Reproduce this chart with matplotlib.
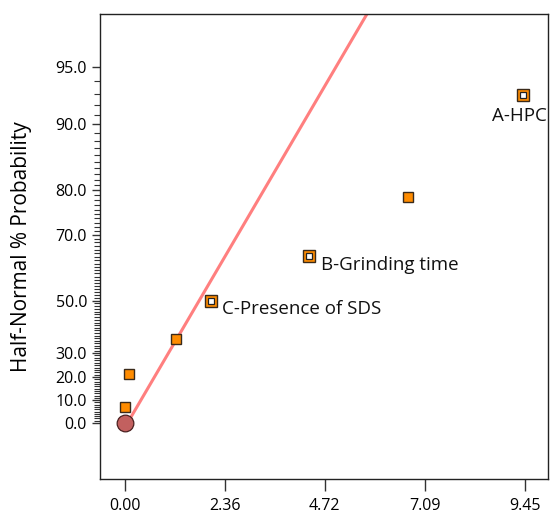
import matplotlib
matplotlib.use('Agg')
import matplotlib.pyplot as plt
from statistics import NormalDist

# effect sizes and half-normal % probability
effects = [0.00, 0.09, 1.21, 2.02, 4.35, 6.69, 9.40]
probs = [7.1, 21.4, 35.7, 50.0, 64.3, 78.6, 92.9]
names = ['', '', '', 'C-Presence of SDS', 'B-Grinding time', '', 'A-HPC']

x_ticks = [0.00, 2.36, 4.72, 7.09, 9.45]
y_major = [0, 10, 20, 30, 50, 70, 80, 90, 95]

# reference line (effect, % probability)
line_effect = [0.06, 6.0]
line_prob = [0.0, 98.2]

nd = NormalDist()
def hn(p):
    return nd.inv_cdf(0.5 + p / 200.0)

plt.rcParams['font.family'] = ['Open Sans', 'DejaVu Sans']
fig = plt.figure(figsize=(5.5, 5.15), dpi=100)
ax = fig.add_axes([0.181, 0.07, 0.8154, 0.9028])

ax.plot(line_effect, [hn(p) for p in line_prob], color='#ff7f7f', lw=2.2, zorder=2)

ax.plot(0, 0, 'o', ms=12, mfc='#c2605f', mec='#4a2020', mew=0.9, zorder=3)

for e, p, n in zip(effects, probs, names):
    z = hn(p)
    if n:
        ax.plot(e, z, 's', ms=9, mfc='#ff8c00', mec='#3a2a1a', mew=1.0, zorder=4)
        ax.plot(e, z, 's', ms=4.5, mfc='white', mec='#222222', mew=0.9, zorder=5)
    else:
        ax.plot(e, z, 's', ms=7.5, mfc='#ff8c00', mec='#3a2a1a', mew=1.0, zorder=4)

offsets = {'A-HPC': (-31, -21), 'B-Grinding time': (12, -9), 'C-Presence of SDS': (11, -8)}
for e, p, n in zip(effects, probs, names):
    if n:
        ax.annotate(n, (e, hn(p)), xytext=offsets[n], textcoords='offset pixels',
                    fontsize=13.5, va='center', ha='left', color='#111111')

ax.set_xlim(-0.6, 9.99)
ax.set_ylim(-0.308, 2.252)
ax.set_xticks(x_ticks)
ax.set_xticklabels(['%.2f' % v for v in x_ticks])
ax.set_yticks([hn(p) for p in y_major])
ax.set_yticklabels(['%.1f' % p for p in y_major])
ax.set_yticks([hn(p) for p in range(0, 96) if p not in y_major], minor=True)
ax.tick_params(axis='y', which='major', length=6, width=1, labelsize=11.5, color='#333333', pad=3)
ax.tick_params(axis='y', which='minor', length=4, width=0.8, color='#333333')
ax.tick_params(axis='x', which='major', length=8.5, width=1, labelsize=11.5, color='#333333', pad=5.5)
for s in ax.spines.values():
    s.set_linewidth(1.0)
    s.set_color('#222222')

ax.set_ylabel('Half-Normal % Probability', fontsize=15, labelpad=17)

fig.savefig('out.png', dpi=100)
